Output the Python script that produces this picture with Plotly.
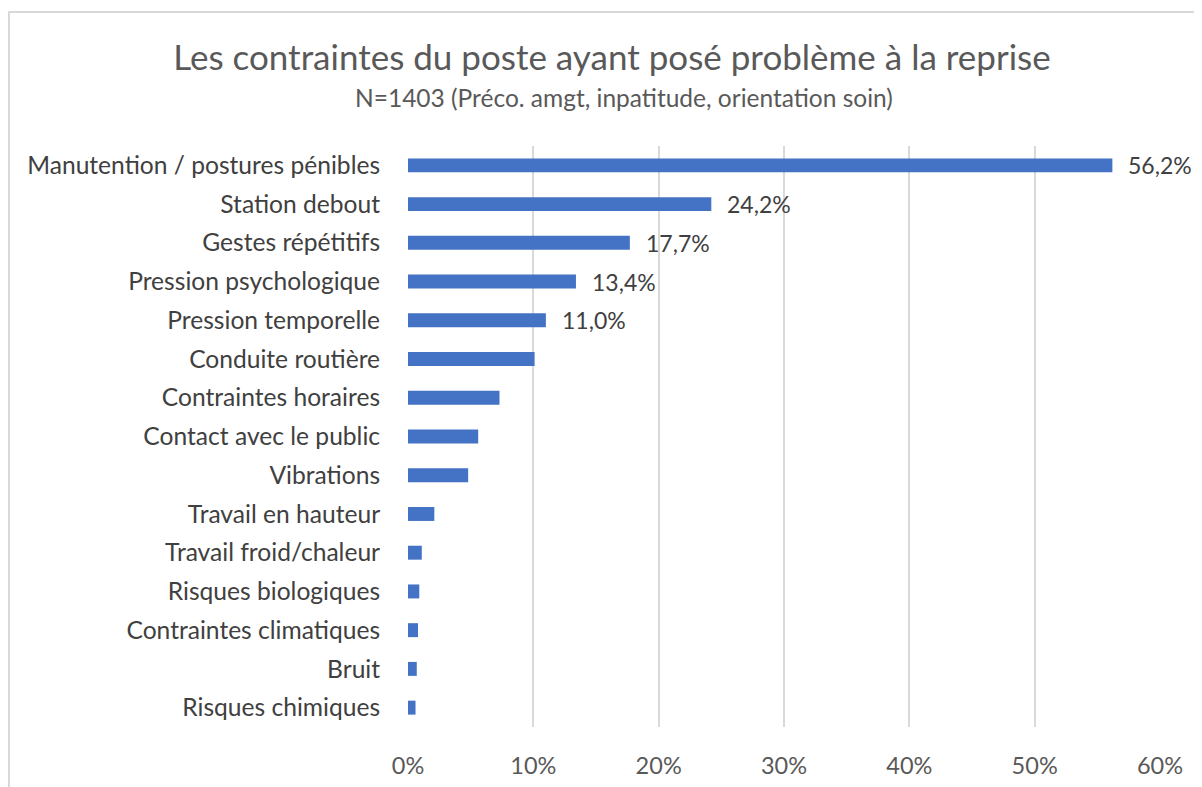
import plotly.graph_objects as go

categories = [
    "Manutention / postures pénibles",
    "Station debout",
    "Gestes répétitifs",
    "Pression psychologique",
    "Pression temporelle",
    "Conduite routière",
    "Contraintes horaires",
    "Contact avec le public",
    "Vibrations",
    "Travail en hauteur",
    "Travail froid/chaleur",
    "Risques biologiques",
    "Contraintes climatiques",
    "Bruit",
    "Risques chimiques",
]
values = [56.2, 24.2, 17.7, 13.4, 11.0, 10.1, 7.3, 5.6, 4.8, 2.1, 1.1, 0.9, 0.8, 0.7, 0.6]
labels = ["56,2%", "24,2%", "17,7%", "13,4%", "11,0%", "", "", "", "", "", "", "", "", "", ""]
tick_vals = [0, 10, 20, 30, 40, 50, 60]
tick_text = ["0%", "10%", "20%", "30%", "40%", "50%", "60%"]

# page has an 8px body margin, so the figure is a bit smaller than the window
OFF = 8
W, H = 1202 - OFF, 787 - OFF
ml, mr, mt, mb = 408 - OFF, 42, 146 - OFF, 60
pw, ph = W - ml - mr, H - mt - mb

font = "Lato, 'Open Sans', sans-serif"

fig = go.Figure(go.Bar(
    y=categories,
    x=values,
    orientation="h",
    marker=dict(color="#4472C4", line=dict(width=0)),
    width=0.36,
))

for cat, v, lab in zip(categories, values, labels):
    if lab:
        fig.add_annotation(x=v, y=cat, text=lab, showarrow=False,
                           xanchor="left", xshift=14,
                           font=dict(size=23, color="#404040", family=font))


def px_x(x):
    return (x - OFF - ml) / pw


def px_y(y):
    return 1 - (y - OFF - mt) / ph


fig.add_annotation(
    text="N=1403 (Préco. amgt, inpatitude, orientation soin)",
    xref="paper", yref="paper", x=px_x(624), y=px_y(98),
    xanchor="center", yanchor="middle", showarrow=False,
    font=dict(size=24.5, color="#595959", family=font),
)

fig.update_layout(
    width=W, height=H,
    margin=dict(l=ml, r=mr, t=mt, b=mb),
    plot_bgcolor="white", paper_bgcolor="white",
    font=dict(family=font, color="#595959"),
    showlegend=False,
    title=dict(
        text="Les contraintes du poste ayant posé problème à la reprise",
        x=(612 - OFF) / W, xref="container", xanchor="center",
        y=1 - (58 - OFF) / H, yref="container", yanchor="middle",
        font=dict(size=35, color="#595959", family=font),
    ),
    xaxis=dict(
        range=[0, 60],
        tickvals=tick_vals, ticktext=tick_text,
        showgrid=True, gridcolor="#D9D9D9", gridwidth=2,
        zeroline=False, showline=False, automargin=False,
        tickfont=dict(size=23.5, color="#595959"),
        ticks="outside", ticklen=18, tickcolor="rgba(0,0,0,0)",
    ),
    yaxis=dict(
        autorange="reversed", automargin=False,
        showgrid=False, showline=False, zeroline=False,
        tickfont=dict(size=24.6, color="#404040"),
        ticks="outside", ticklen=22, tickcolor="rgba(0,0,0,0)",
    ),
    shapes=[
        dict(type="line", xref="paper", yref="paper",
             x0=px_x(8), x1=px_x(1210), y0=px_y(12), y1=px_y(12),
             line=dict(color="#D9D9D9", width=2)),
        dict(type="line", xref="paper", yref="paper",
             x0=px_x(9), x1=px_x(9), y0=px_y(12), y1=px_y(795),
             line=dict(color="#D9D9D9", width=2)),
    ],
)

fig.write_html("out.html")
